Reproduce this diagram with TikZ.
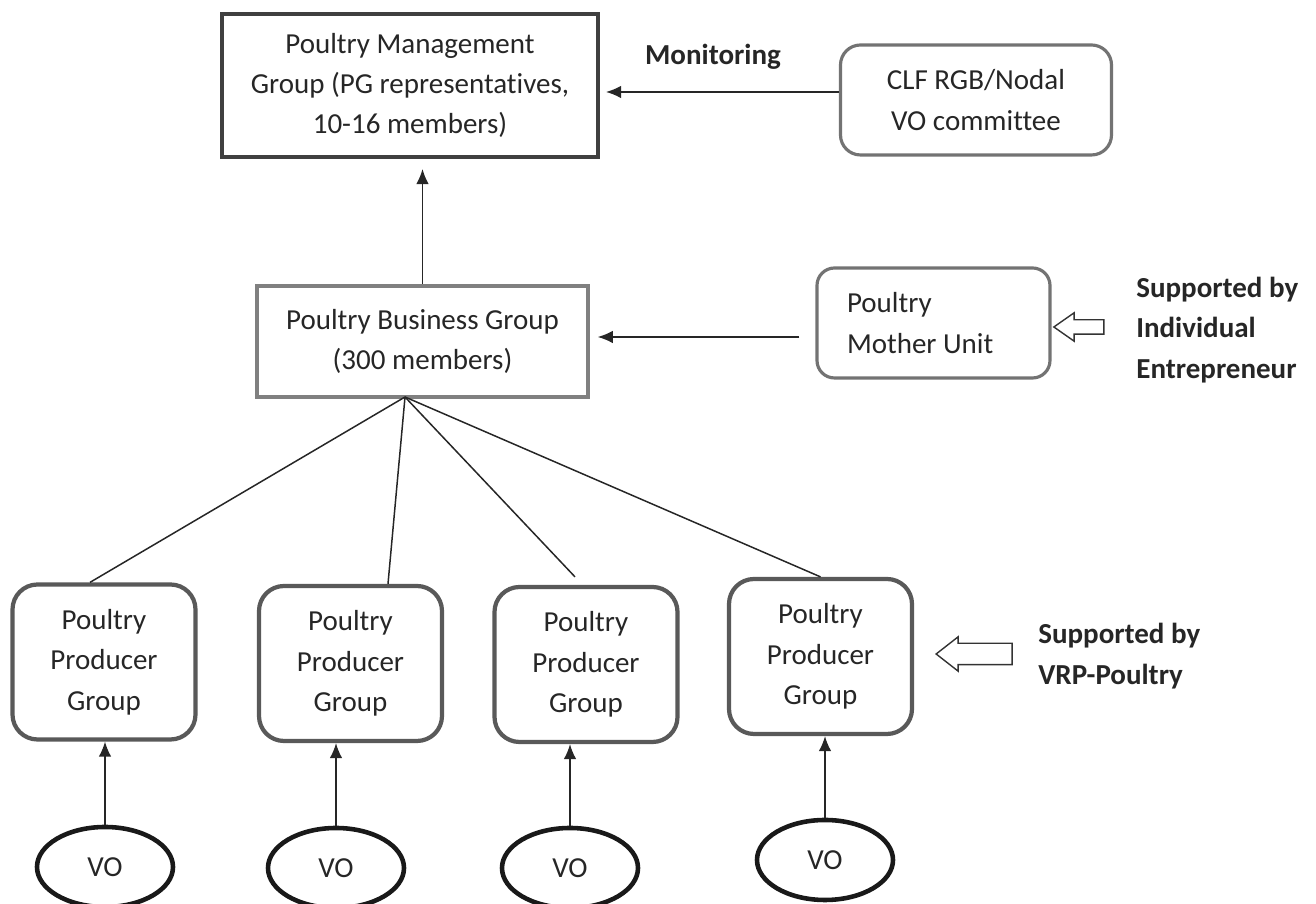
\documentclass[tikz,border=0pt]{standalone}
\usepackage{fontspec}
\setmainfont{Carlito}[Ligatures=CommonOff]
\usetikzlibrary{shapes.geometric,shapes.arrows,arrows.meta}

\begin{document}
\begin{tikzpicture}[
    every node/.style={font=\fontsize{16.5}{23}\selectfont, text=black!85},
    plainbox/.style={draw=black!50, line width=2pt, align=center, minimum height=2.2cm, inner sep=0pt},
    pgbox/.style={draw=black!65, line width=2.4pt, rounded corners=0.5cm, align=center,
        minimum width=3.66cm, minimum height=3.1cm, inner sep=0pt},
    vo/.style={ellipse, draw=black!90, line width=2.6pt, minimum width=2.72cm, minimum height=1.6cm},
    arr/.style={-{Latex[length=3mm,width=2.5mm]}, line width=0.85pt, draw=black!85},
    hollow/.style={single arrow, draw=black!80, line width=0.8pt, shape border rotate=180,
        single arrow head indent=0pt, inner xsep=0pt},
    note/.style={font=\fontsize{16.5}{23}\selectfont\bfseries, align=left, anchor=west, inner sep=0pt}
]
    \useasboundingbox (0,0) rectangle (26.32,18.08);

    % Top level
    \node[draw=black!75, line width=2.3pt, align=center, minimum width=7.52cm, minimum height=2.86cm, inner sep=0pt]
        (pmg) at (8.2,16.37) {Poultry Management\\Group (PG representatives,\\10-16 members)};
    \node[plainbox, draw=black!55, line width=1.8pt, rounded corners=0.4cm, minimum width=5.42cm]
        (clf) at (19.52,16.08) {CLF RGB/Nodal\\VO committee};
    \node[font=\fontsize{16.5}{23}\selectfont\bfseries] (mon) at (14.26,16.94) {Monitoring};

    % Middle level
    \node[plainbox, minimum width=6.62cm, minimum height=2.22cm] (pbg) at (8.45,11.25) {Poultry Business Group\\(300 members)};
    \node[plainbox, draw=black!55, line width=1.8pt, rounded corners=0.35cm, minimum width=4.66cm,
        text width=3.46cm, inner xsep=0.6cm, align=flush left] (pmu) at (18.67,11.62) {Poultry\\Mother Unit};
    \node[hollow, minimum height=1cm, inner ysep=0.13cm, single arrow head extend=0.14cm,
        single arrow tip angle=70] (ha1) at (21.68,11.54) {};
    \node[note] (sup1) at (22.72,11.48) {Supported by\\Individual\\Entrepreneur};

    % Producer groups
    \node[pgbox] (ppg1) at (2.08,4.84) {Poultry\\Producer\\Group};
    \node[pgbox] (ppg2) at (7.01,4.81) {Poultry\\Producer\\Group};
    \node[pgbox] (ppg3) at (11.72,4.79) {Poultry\\Producer\\Group};
    \node[pgbox] (ppg4) at (16.41,4.95) {Poultry\\Producer\\Group};
    \node[hollow, minimum height=1.52cm, inner ysep=0.2cm, single arrow head extend=0.13cm,
        single arrow tip angle=76] (ha2) at (19.62,5.0) {};
    \node[note] (sup2) at (20.76,4.96) {Supported by\\VRP-Poultry};

    % VOs
    \node[vo] (vo1) at (2.1,0.74) {VO};
    \node[vo] (vo2) at (6.72,0.72) {VO};
    \node[vo] (vo3) at (11.4,0.72) {VO};
    \node[vo] (vo4) at (16.5,0.88) {VO};

    % Arrows
    \coordinate (m) at ([yshift=1.6mm]clf.west);
    \draw[arr, shorten >=1.2mm] (m) -- (m -| pmg.east);
    \draw[arr, shorten >=2mm] (pbg.north) -- (pbg.north |- pmg.south);
    \coordinate (q) at ([yshift=-2.8mm]pmu.west);
    \draw[arr, shorten <=3.2mm, shorten >=1.6mm] (q) -- (q -| pbg.east);
    \foreach \i in {1,...,4}
        \draw[arr] (vo\i.north) -- (vo\i.north |- ppg\i.south);

    % Lines to producer groups
    \coordinate (hub) at (8.1,10.14);
    \draw[line width=0.85pt, black!85] (hub) -- ([xshift=-2.8mm]ppg1.north);
    \draw[line width=0.85pt, black!85] (hub) -- ([xshift=7.5mm]ppg2.north);
    \draw[line width=0.85pt, black!85] (hub) -- ([xshift=-2.2mm,yshift=1.6mm]ppg3.north);
    \draw[line width=0.85pt, black!85] (hub) -- (ppg4.north);
\end{tikzpicture}
\end{document}
